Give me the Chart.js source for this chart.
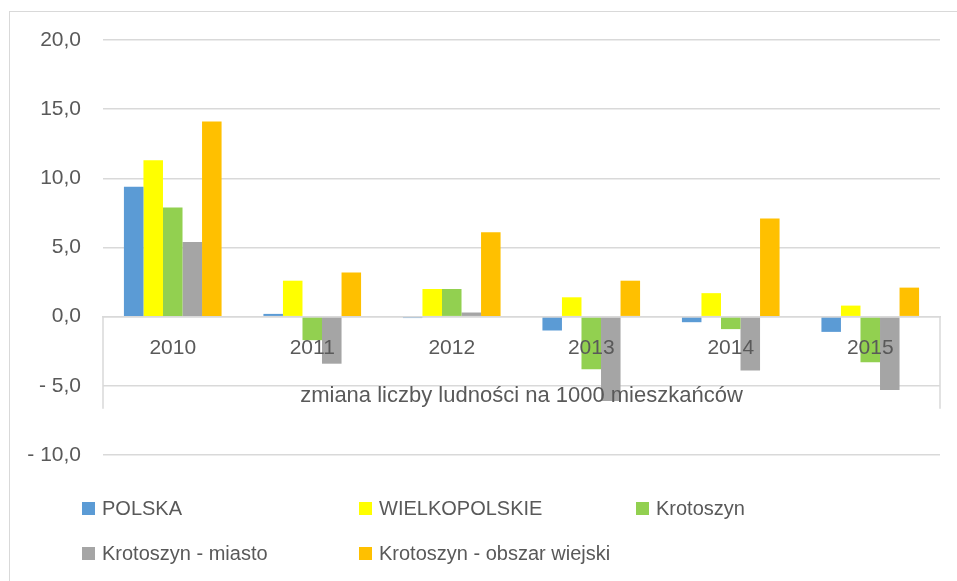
<!DOCTYPE html>
<html>
<head>
<meta charset="utf-8">
<script src="https://cdn.jsdelivr.net/npm/chart.js@4/dist/chart.umd.min.js"></script>
<style>
  html, body { margin: 0; padding: 0; background: #fff; }
  #wrap { position: relative; width: 957px; height: 581px; overflow: hidden; }
  #frame { position: absolute; left: 9px; top: 11px; width: 960px; height: 580px; border: 1.5px solid #d9d9d9; box-sizing: border-box; }
  #c { position: absolute; left: 0; top: 0; }
  #legend { position: absolute; left: 0; top: 0; width: 957px; height: 581px; pointer-events: none;
            font-family: "Liberation Sans", Arial, sans-serif; font-size: 20px; color: #595959; }
  .item { position: absolute; display: flex; align-items: center; white-space: nowrap; }
  .box { width: 13px; height: 13px; margin-right: 7px; }
</style>
</head>
<body>
<div id="wrap">
  <div id="frame"></div>
  <canvas id="c" width="957" height="581"></canvas>
  <div id="legend"></div>
</div>
<script>
const categories = ['2010', '2011', '2012', '2013', '2014', '2015'];
const seriesNames = ['POLSKA', 'WIELKOPOLSKIE', 'Krotoszyn', 'Krotoszyn - miasto', 'Krotoszyn - obszar wiejski'];
const polska        = [9.4, 0.2, -0.1, -1.0, -0.4, -1.1];
const wielkopolskie = [11.3, 2.6, 2.0, 1.4, 1.7, 0.8];
const krotoszyn     = [7.9, -1.7, 2.0, -3.8, -0.9, -3.3];
const miasto        = [5.4, -3.4, 0.3, -6.1, -3.9, -5.3];
const wiejski       = [14.1, 3.2, 6.1, 2.6, 7.1, 2.1];
const colors = ['#5B9BD5', '#FFFF00', '#92D050', '#A5A5A5', '#FFC000'];
const xTitle = 'zmiana liczby ludności na 1000 mieszkańców';

const FONT = '"Liberation Sans", Arial, sans-serif';
const TEXT = '#595959';
const GRID = '#d9d9d9';

const allSeries = [polska, wielkopolskie, krotoszyn, miasto, wiejski];
const datasets = allSeries.map((d, i) => ({
  label: seriesNames[i],
  data: d,
  backgroundColor: colors[i],
  borderWidth: 0,
  categoryPercentage: 0.7,
  barPercentage: 1.0
}));

function fmt(v) {
  const s = Math.abs(v).toFixed(1).replace('.', ',');
  return v < 0 ? '- ' + s : s;
}

const edgeLines = {
  id: 'edgeLines',
  afterDraw(chart) {
    const ctx = chart.ctx;
    const ca = chart.chartArea;
    const y0 = chart.scales.y.getPixelForValue(0);
    ctx.save();
    ctx.strokeStyle = GRID;
    ctx.lineWidth = 1.5;
    ctx.beginPath();
    ctx.moveTo(ca.left, y0); ctx.lineTo(ca.left, y0 + 92);
    ctx.moveTo(ca.right, y0); ctx.lineTo(ca.right, y0 + 92);
    ctx.stroke();
    ctx.restore();
  }
};

new Chart(document.getElementById('c'), {
  type: 'bar',
  data: { labels: categories, datasets },
  options: {
    responsive: false,
    animation: false,
    layout: { padding: { left: 9, right: 17, top: 40, bottom: 126 } },
    plugins: { legend: { display: false }, tooltip: { enabled: false } },
    scales: {
      x: {
        position: { y: 0 },
        grid: { display: false, drawTicks: false, z: 1 },
        border: { display: true, color: GRID, width: 1.5, z: 1 },
        ticks: { z: 1, color: TEXT, font: { family: FONT, size: 21 }, padding: 19 },
        title: { display: true, text: xTitle, color: TEXT, font: { family: FONT, size: 22 }, padding: { top: 3, bottom: 0 } }
      },
      y: {
        min: -10, max: 20,
        afterFit(scale) { scale.width = 94; },
        grid: { color: GRID, lineWidth: 1.5, drawTicks: false },
        border: { display: false },
        ticks: { stepSize: 5, color: TEXT, font: { family: FONT, size: 21 }, padding: 22, callback: v => fmt(v) }
      }
    }
  },
  plugins: [edgeLines]
});

const legend = document.getElementById('legend');
const cols = [82, 359, 636];
const rows = [508, 553];
seriesNames.forEach((name, i) => {
  const el = document.createElement('div');
  el.className = 'item';
  el.style.left = cols[i % 3] + 'px';
  el.style.top = (rows[Math.floor(i / 3)] - 12) + 'px';
  el.style.height = '24px';
  const b = document.createElement('span');
  b.className = 'box';
  b.style.background = colors[i];
  const t = document.createElement('span');
  t.textContent = name;
  el.appendChild(b); el.appendChild(t);
  legend.appendChild(el);
});
</script>
</body>
</html>
